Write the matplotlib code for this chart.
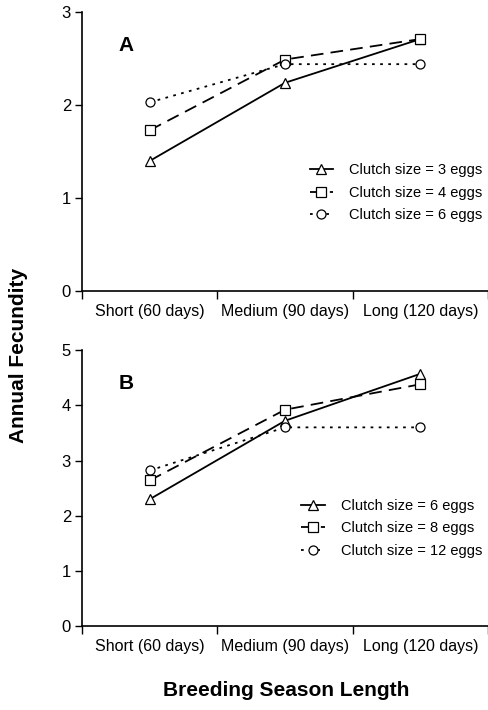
import numpy as np
import matplotlib
matplotlib.use('Agg')
import matplotlib.pyplot as plt

plt.rcParams['font.family'] = ['Liberation Sans', 'DejaVu Sans']

seasons = ['Short (60 days)', 'Medium (90 days)', 'Long (120 days)']

a_labels = ['Clutch size = 3 eggs', 'Clutch size = 4 eggs', 'Clutch size = 6 eggs']
a_tri = [1.40, 2.24, 2.71]
a_sq = [1.73, 2.49, 2.71]
a_circ = [2.03, 2.44, 2.44]

b_labels = ['Clutch size = 6 eggs', 'Clutch size = 8 eggs', 'Clutch size = 12 eggs']
b_tri = [2.30, 3.72, 4.57]
b_sq = [2.64, 3.92, 4.38]
b_circ = [2.82, 3.60, 3.60]

styles = [('^', '-', (None, None)), ('s', '--', (7, 4)), ('o', ':', (1.5, 3))]

fig = plt.figure(figsize=(4.89, 7.10), dpi=100)
ax1 = fig.add_axes([0.168, 0.590, 0.830, 0.393])
ax2 = fig.add_axes([0.168, 0.118, 0.830, 0.389])

x = np.arange(len(seasons)) + 0.5

def panel(ax, series, labels, ymax, letter):
    for ys, lab, (m, ls, dash) in zip(series, labels, styles):
        line, = ax.plot(x, ys, color='black', linestyle=ls, lw=1.3, marker=m,
                        markersize=6.5, markerfacecolor='white', markeredgecolor='black',
                        markeredgewidth=0.9, label=lab)
        if dash[0] is not None:
            line.set_dashes(dash)
    ax.set_xlim(0, 3)
    ax.set_ylim(0, ymax)
    ax.set_yticks(range(ymax + 1))
    ax.set_xticks([0, 1, 2, 3])
    ax.set_xticklabels([])
    ax.set_xticks(x, minor=True)
    ax.set_xticklabels(seasons, minor=True)
    ax.tick_params(axis='x', which='minor', length=0, pad=9, labelsize=11.5)
    ax.tick_params(axis='x', which='major', length=6, direction='out', width=1)
    ax.tick_params(axis='y', length=5, direction='out', width=1, labelsize=12, pad=3)
    for s in ['top', 'right']:
        ax.spines[s].set_visible(False)
    for s in ['left', 'bottom']:
        ax.spines[s].set_linewidth(1.2)
    ax.text(0.09, 0.86, letter, transform=ax.transAxes, fontsize=15, fontweight='bold')
    ax.legend(loc='lower right', bbox_to_anchor=(1.0, 0.225), frameon=False,
              fontsize=10.5, handlelength=1.6, handletextpad=1.1, labelspacing=0.6,
              borderaxespad=0.0)

panel(ax1, [a_tri, a_sq, a_circ], a_labels, 3, 'A')
panel(ax2, [b_tri, b_sq, b_circ], b_labels, 5, 'B')

fig.text(0.038, 0.5, 'Annual Fecundity', rotation=90, ha='center', va='center',
         fontsize=15, fontweight='bold')
fig.text(0.585, 0.028, 'Breeding Season Length', ha='center', va='center',
         fontsize=15, fontweight='bold')

fig.savefig('out.png', dpi=100)
